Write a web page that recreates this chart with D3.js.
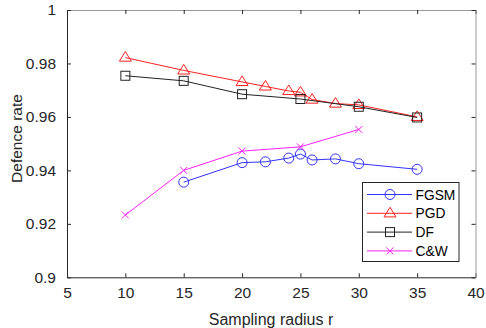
<!DOCTYPE html>
<html><head><meta charset="utf-8">
<script src="https://cdn.jsdelivr.net/npm/d3@7"></script>
<style>body{margin:0;background:#fff;} svg{display:block;} text{font-family:"Liberation Sans",Arial,sans-serif;}</style>
</head><body><svg id="c" width="486" height="328"></svg>
<script>
const fgsmX = [15, 20, 22, 24, 25, 26, 28, 30, 35];
const fgsmY = [0.9356, 0.9429, 0.9432, 0.9446, 0.9461, 0.9439, 0.9443, 0.9425, 0.9404];
const pgdX = [10, 15, 20, 22, 24, 25, 26, 28, 30, 35];
const pgdY = [0.9822, 0.9774, 0.9731, 0.9714, 0.9697, 0.9692, 0.9665, 0.9650, 0.9645, 0.9600];
const dfX = [10, 15, 20, 25, 30, 35];
const dfY = [0.9754, 0.9735, 0.9685, 0.9667, 0.9638, 0.9598];
const cwX = [10, 15, 20, 25, 30];
const cwY = [0.9233, 0.9400, 0.9472, 0.9488, 0.9553];
const xTicks = [5, 10, 15, 20, 25, 30, 35, 40];
const yTicks = [0.9, 0.92, 0.94, 0.96, 0.98, 1];
const seriesNames = ["FGSM", "PGD", "DF", "C&W"];
const seriesColors = ["#3333ff", "#ff2020", "#222222", "#ff22ff"];
const seriesMarkers = ["circle", "triangle", "square", "cross"];

const svg = d3.select("#c");
const L = 67, R = 475.5, T = 10, B = 277.3;
const x = d3.scaleLinear().domain([5, 40]).range([L, R]);
const y = d3.scaleLinear().domain([0.9, 1]).range([B, T]);
const axisColor = "#262626";

// axes
const gx = svg.append("g").attr("transform", `translate(0,${B})`)
  .call(d3.axisBottom(x).tickValues(xTicks).tickSizeInner(-4).tickSizeOuter(0).tickPadding(10).tickFormat(d3.format("d")));
const gxTop = svg.append("g").attr("transform", `translate(0,${T})`)
  .call(d3.axisTop(x).tickValues(xTicks).tickSizeInner(-4).tickSizeOuter(0).tickFormat(""));
const gy = svg.append("g").attr("transform", `translate(${L},0)`)
  .call(d3.axisLeft(y).tickValues(yTicks).tickSizeInner(-4).tickSizeOuter(0).tickPadding(11).tickFormat(d => d === 1 ? "1" : d3.format(".2~f")(d)));
const gyR = svg.append("g").attr("transform", `translate(${R},0)`)
  .call(d3.axisRight(y).tickValues(yTicks).tickSizeInner(-4).tickSizeOuter(0).tickFormat(""));
[gx, gxTop, gy, gyR].forEach(g => {
  g.selectAll(".domain").attr("stroke", axisColor).attr("stroke-width", 1);
  g.selectAll(".tick line").attr("stroke", axisColor);
  g.selectAll("text").attr("fill", axisColor).style("font-size", "15.5px").style("font-family", "'Liberation Sans',Arial,sans-serif");
});
gyR.selectAll(".domain").attr("stroke", "#999");
gxTop.selectAll(".domain").attr("stroke", "#999");

svg.append("text").attr("x", 271).attr("y", 325).attr("text-anchor", "middle")
  .attr("fill", axisColor).style("font-size", "16px").text("Sampling radius r");
svg.append("text").attr("transform", "translate(21.5,138.5) rotate(-90)").attr("text-anchor", "middle")
  .attr("fill", axisColor).style("font-size", "15.5px").text("Defence rate");

function drawMarker(g, type, cx, cy, color) {
  if (type === "circle") {
    g.append("circle").attr("cx", cx).attr("cy", cy).attr("r", 5).attr("fill", "none").attr("stroke", color).attr("stroke-width", 1);
  } else if (type === "triangle") {
    const s = 6;
    g.append("path").attr("d", `M${cx},${cy - s} L${cx + s},${cy + s * 0.6} L${cx - s},${cy + s * 0.6} Z`)
      .attr("fill", "none").attr("stroke", color).attr("stroke-width", 1);
  } else if (type === "square") {
    g.append("rect").attr("x", cx - 4.5).attr("y", cy - 4.5).attr("width", 9).attr("height", 9)
      .attr("fill", "none").attr("stroke", color).attr("stroke-width", 1);
  } else {
    const s = 3.5;
    g.append("path").attr("d", `M${cx - s},${cy - s} L${cx + s},${cy + s} M${cx - s},${cy + s} L${cx + s},${cy - s}`)
      .attr("stroke", color).attr("stroke-width", 1);
  }
}

const allX = [fgsmX, pgdX, dfX, cwX];
const allY = [fgsmY, pgdY, dfY, cwY];
const line = d3.line().x(d => x(d[0])).y(d => y(d[1]));
allX.forEach((xs, i) => {
  const pts = xs.map((v, j) => [v, allY[i][j]]);
  const g = svg.append("g");
  g.append("path").datum(pts).attr("d", line).attr("fill", "none").attr("stroke", seriesColors[i]).attr("stroke-width", 1);
  pts.forEach(p => drawMarker(g, seriesMarkers[i], x(p[0]), y(p[1]), seriesColors[i]));
});

// legend
const lg = svg.append("g");
lg.append("rect").attr("x", 362.5).attr("y", 182.5).attr("width", 96.5).attr("height", 79)
  .attr("fill", "#fff").attr("stroke", axisColor).attr("stroke-width", 1);
seriesNames.forEach((name, i) => {
  const yy = 194.5 + i * 18.8;
  lg.append("line").attr("x1", 367).attr("x2", 412).attr("y1", yy).attr("y2", yy).attr("stroke", seriesColors[i]).attr("stroke-width", 1);
  drawMarker(lg, seriesMarkers[i], 390, yy, seriesColors[i]);
  lg.append("text").attr("x", 415.5).attr("y", yy + 5).attr("fill", "#000").style("font-size", "13.8px").text(name);
});
</script></body></html>
